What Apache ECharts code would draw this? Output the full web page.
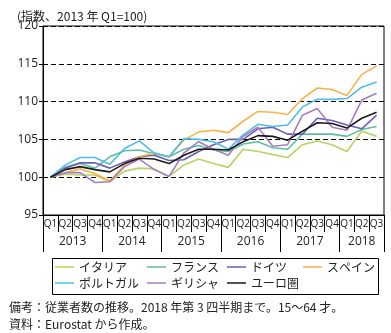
<!DOCTYPE html>
<html><head><meta charset="utf-8">
<script src="https://cdn.jsdelivr.net/npm/echarts@6/dist/echarts.min.js"></script>
<style>html,body{margin:0;padding:0;background:#fff}#c{width:391px;height:333px}</style>
</head><body><div id="c"></div>
<script>
const quarters = ['Q1','Q2','Q3','Q4','Q1','Q2','Q3','Q4','Q1','Q2','Q3','Q4','Q1','Q2','Q3','Q4','Q1','Q2','Q3','Q4','Q1','Q2','Q3'];
const years = ['2013','2014','2015','2016','2017','2018'];
const yearBounds = [0,4,8,12,16,20,23];
const italy    = [100,100.4,100.3,100.3,99.4,100.8,101.2,101.1,100.1,101.6,102.4,101.8,101.3,103.7,103.4,103.0,102.6,104.3,104.8,104.3,103.4,106.1,105.4];
const france   = [100,101.3,101.8,101.2,102.7,103.5,103.6,103.1,102.7,103.7,104.2,103.6,103.4,104.4,104.7,103.9,103.7,105.7,105.7,105.7,105.4,106.3,106.7];
const germany  = [100,101.2,101.9,101.9,101.2,102.0,102.7,102.9,102.2,102.3,103.4,104.3,105.0,105.0,106.4,106.6,105.7,105.7,107.8,107.5,106.9,106.4,108.2];
const spain    = [100,100.6,101.1,100.5,99.5,101.6,102.7,103.2,102.7,104.9,106.0,106.2,105.9,107.4,108.7,108.6,108.3,110.4,111.8,111.6,110.8,113.6,114.7];
const portugal = [100,101.6,102.6,102.6,101.7,103.8,104.8,103.2,102.7,105.1,105.0,104.7,103.7,105.6,107.0,106.7,106.9,109.3,110.3,110.3,110.4,111.9,112.6];
const greece   = [100,100.6,100.6,99.3,99.4,101.4,102.4,101.0,100.1,103.2,104.7,103.7,102.9,105.4,106.6,104.1,104.3,108.2,109.1,106.6,106.2,110.2,111.1];
const euro     = [100,101.0,101.4,101.0,100.7,101.8,102.5,102.4,101.8,102.9,103.7,103.7,103.6,104.7,105.5,105.4,104.9,106.1,107.2,107.1,106.5,107.8,108.6];

// half-quarter helper axis for centring the year labels
const halfSlots = [];
quarters.forEach((q,i)=>{halfSlots.push(i+'a'); halfSlots.push(i+'b');});
const yearSlotIdx = [];
for (let k=0;k<years.length;k++){ const a=yearBounds[k], b=yearBounds[k+1]; yearSlotIdx.push(a+b-1); }

const F = '"Noto Sans CJK JP", sans-serif';
const FL = '"Open Sans", "Noto Sans", sans-serif';
const names = ['イタリア','フランス','ドイツ','スペイン','ポルトガル','ギリシャ','ユーロ圏'];
const datas = [italy, france, germany, spain, portugal, greece, euro];
const colors = ['#b5d463','#5fbfa6','#6b5fb5','#f8b24a','#50bde8','#a57dc0','#1a1a1a'];
const legendPos = [[55,261],[147,261],[227,261],[303,261],[55,277],[147,277],[227,277]];

const chart = echarts.init(document.getElementById('c'), null, {renderer:'canvas'});
chart.setOption({
  animation:false,
  textStyle:{fontFamily:F},
  title:[
    {text:'(指数、2013 年 Q1=100)', left:12, top:5, textStyle:{fontFamily:F, fontSize:12, fontWeight:'normal', color:'#222'}},
    {text:'備考：従業者数の推移。2018 年第 3 四半期まで。15〜64 才。', left:4, top:296, textStyle:{fontFamily:F, fontSize:12, fontWeight:'normal', color:'#222'}},
    {text:'資料：Eurostat から作成。', left:4, top:313, textStyle:{fontFamily:F, fontSize:12, fontWeight:'normal', color:'#222'}}
  ],
  legend: names.map((n,i)=>({
    data:[n], left:legendPos[i][0], top:legendPos[i][1], padding:0,
    icon:'rect', itemWidth:19, itemHeight:1.5,
    textStyle:{fontFamily:F, fontSize:12, color:'#222'}
  })),
  graphic:[{type:'rect', shape:{x:52.5, y:258.5, width:326, height:36}, style:{fill:'none', stroke:'#000', lineWidth:1}}],
  grid:{left:43, right:7, top:26, bottom:118, show:true, borderColor:'#000', borderWidth:1},
  xAxis:[
    {type:'category', data:quarters, boundaryGap:true,
     axisLine:{lineStyle:{color:'#000', width:1}},
     axisTick:{show:true, interval:0, length:17, lineStyle:{color:'#000'}},
     axisLabel:{interval:0, margin:4, fontSize:10, color:'#222', fontFamily:FL}},
    {type:'value', min:0, max:23, position:'bottom',
     axisLine:{show:false}, splitLine:{show:false},
     axisTick:{show:true, customValues:yearBounds, length:37, lineStyle:{color:'#000'}},
     axisLabel:{show:false}},
    {type:'category', data:halfSlots, boundaryGap:true, position:'bottom',
     axisLine:{show:false}, axisTick:{show:false}, splitLine:{show:false},
     axisLabel:{interval:(idx)=>yearSlotIdx.indexOf(idx)>=0, margin:21, fontSize:12, color:'#222', fontFamily:FL,
       fontWeight:'normal', padding:[0,0,0,7.4],
       formatter:(v, idx)=>{const k=yearSlotIdx.indexOf(idx); return k<0?'':years[k];}}}
  ],
  yAxis:{type:'value', min:95, max:120, interval:5,
    axisLine:{show:true, lineStyle:{color:'#000'}},
    axisTick:{show:true, length:4, lineStyle:{color:'#000'}},
    axisLabel:{margin:5, fontSize:12, color:'#222', fontFamily:FL},
    splitLine:{show:true, lineStyle:{color:'#000', type:[5,3], width:1}}},
  series: names.map((n,i)=>({
    name:n, type:'line', data:datas[i], xAxisIndex:0, symbol:'none', smooth:false,
    z: i===6?5:2,
    lineStyle:{color:colors[i], width:1.6}, itemStyle:{color:colors[i]}
  }))
});
</script></body></html>
